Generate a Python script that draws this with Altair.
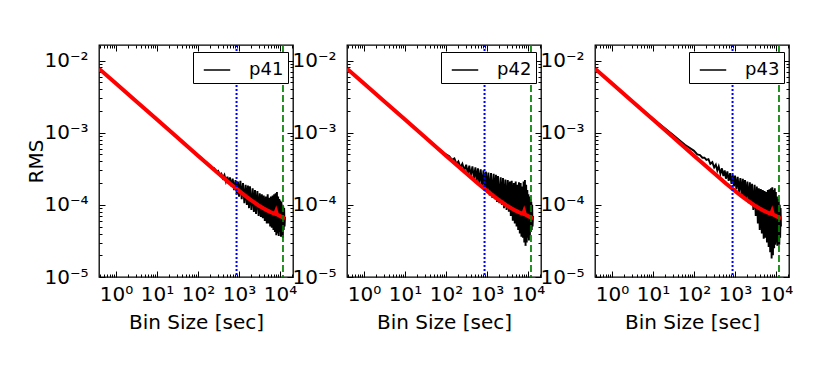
import altair as alt
import pandas as pd

FONT = "DejaVu Sans"
FS = 20
LEGEND_FS = 18

panel_names = ["p41", "p42", "p43"]

# bin sizes [sec] shared by the three measured RMS curves
bin_size = [
    0.385, 1, 3, 10, 30, 60,
    100, 120, 140, 160, 180,
    200, 225, 250, 280, 310,
    340, 370, 400, 440, 480,
    520, 560, 600, 650, 700,
    760, 820, 880, 940, 1000,
    1080, 1160, 1250, 1350, 1450,
    1550, 1650, 1750, 1850, 2000,
    2150, 2300, 2450, 2600, 2800,
    3000, 3200, 3400, 3600, 3800,
    4000, 4250, 4500, 4750, 5000,
    5250, 5500, 5750, 6000, 6300,
    6600, 6900, 7200, 7500, 7800,
    8100, 8400, 8700, 9000, 9300,
    9600, 9900, 10200, 10500, 10800,
    11100, 11400, 11700, 12000, 12300,
    12600, 12900, 13200,
]

rms_p41 = [
    7.7e-3, 4.8e-3, 2.77e-3, 1.52e-3, 8.8e-4, 6.2e-4,
    4.85e-4, 4.45e-4, 4.0e-4, 3.9e-4, 3.55e-4,
    3.5e-4, 3.15e-4, 3.2e-4, 2.85e-4, 2.95e-4,
    2.6e-4, 2.7e-4, 2.35e-4, 2.6e-4, 2.1e-4,
    2.45e-4, 1.95e-4, 2.4e-4, 1.8e-4, 2.3e-4,
    1.6e-4, 2.2e-4, 1.4e-4, 2.1e-4, 1.3e-4,
    2.15e-4, 1.2e-4, 2.0e-4, 1.05e-4, 1.9e-4,
    1.0e-4, 1.85e-4, 9.0e-5, 1.8e-4, 8.5e-5,
    1.7e-4, 8.0e-5, 1.6e-4, 7.5e-5, 1.55e-4,
    7.0e-5, 1.45e-4, 6.8e-5, 1.4e-4, 6.5e-5,
    1.35e-4, 6.0e-5, 1.3e-4, 5.5e-5, 1.4e-4,
    5.5e-5, 1.25e-4, 5.0e-5, 1.3e-4, 4.8e-5,
    1.35e-4, 4.5e-5, 1.4e-4, 4.2e-5, 1.45e-4,
    3.8e-5, 1.5e-4, 4.0e-5, 1.3e-4, 3.7e-5,
    1.2e-4, 4.2e-5, 1.15e-4, 3.6e-5, 1.1e-4,
    4.0e-5, 1.0e-4, 3.5e-5, 9.5e-5, 4.5e-5,
    9.0e-5, 5.0e-5, 6.8e-5,
]

rms_p42 = [
    7.7e-3, 4.8e-3, 2.77e-3, 1.52e-3, 8.8e-4, 6.3e-4,
    5.0e-4, 4.7e-4, 4.2e-4, 4.4e-4, 3.7e-4,
    4.0e-4, 3.3e-4, 3.7e-4, 3.0e-4, 3.6e-4,
    2.7e-4, 3.5e-4, 2.5e-4, 3.4e-4, 2.3e-4,
    3.3e-4, 2.1e-4, 3.2e-4, 1.95e-4, 3.1e-4,
    1.8e-4, 3.0e-4, 1.6e-4, 2.9e-4, 1.5e-4,
    2.8e-4, 1.35e-4, 2.75e-4, 1.25e-4, 2.7e-4,
    1.2e-4, 2.6e-4, 1.1e-4, 2.5e-4, 1.05e-4,
    2.4e-4, 1.0e-4, 2.35e-4, 9.0e-5, 2.25e-4,
    8.5e-5, 2.2e-4, 8.0e-5, 2.1e-4, 7.0e-5,
    2.15e-4, 6.0e-5, 2.0e-4, 5.5e-5, 2.1e-4,
    5.0e-5, 1.9e-4, 4.5e-5, 2.05e-4, 4.0e-5,
    2.0e-4, 3.6e-5, 1.8e-4, 3.5e-5, 2.1e-4,
    3.0e-5, 2.2e-4, 2.7e-5, 1.9e-4, 3.0e-5,
    1.6e-4, 3.5e-5, 1.4e-4, 3.2e-5, 1.3e-4,
    3.8e-5, 1.2e-4, 4.2e-5, 1.1e-4, 4.5e-5,
    1.0e-4, 5.0e-5, 7.0e-5,
]

rms_p43 = [
    7.7e-3, 4.85e-3, 2.8e-3, 1.56e-3, 9.4e-4, 6.8e-4,
    5.6e-4, 5.0e-4, 4.9e-4, 4.5e-4, 4.5e-4,
    4.2e-4, 4.3e-4, 3.7e-4, 3.9e-4, 3.3e-4,
    3.6e-4, 3.0e-4, 3.4e-4, 2.7e-4, 3.2e-4,
    2.5e-4, 3.0e-4, 2.3e-4, 2.9e-4, 2.15e-4,
    2.75e-4, 1.95e-4, 2.6e-4, 1.8e-4, 2.55e-4,
    1.65e-4, 2.45e-4, 1.5e-4, 2.35e-4, 1.35e-4,
    2.3e-4, 1.25e-4, 2.2e-4, 1.15e-4, 2.1e-4,
    1.05e-4, 2.05e-4, 1.0e-4, 1.95e-4, 8.5e-5,
    1.9e-4, 7.0e-5, 1.8e-4, 5.5e-5, 1.7e-4,
    4.5e-5, 1.65e-4, 4.0e-5, 1.6e-4, 3.4e-5,
    1.55e-4, 3.5e-5, 1.5e-4, 3.0e-5, 1.6e-4,
    2.6e-5, 1.65e-4, 2.2e-5, 1.7e-4, 1.8e-5,
    1.75e-4, 2.0e-5, 1.6e-4, 2.5e-5, 1.7e-4,
    2.8e-5, 1.5e-4, 3.0e-5, 1.3e-4, 2.7e-5,
    1.2e-4, 3.0e-5, 1.1e-4, 2.8e-5, 1.0e-4,
    3.5e-5, 9.0e-5, 5.0e-5,
]

rms_by_panel = [rms_p41, rms_p42, rms_p43]

# expected (white-noise) RMS curve, red
expected_bin = [0.385, 1, 3, 10, 30, 100, 300, 600, 1000, 1500, 2000, 3000,
                4000, 5000, 6000, 7000, 7600, 8000, 8400, 9000, 10000, 11000,
                12000, 13200]
expected_rms = [7.7e-3, 4.8e-3, 2.77e-3, 1.52e-3, 8.8e-4, 4.8e-4, 2.78e-4,
                1.98e-4, 1.56e-4, 1.3e-4, 1.15e-4, 9.8e-5, 8.9e-5, 8.3e-5,
                7.9e-5, 7.6e-5, 7.5e-5, 8.1e-5, 7.4e-5, 7.2e-5, 7.0e-5,
                6.8e-5, 6.6e-5, 6.5e-5]

blue_line_bin = [870]
green_line_bin = [11800]

x_domain = [0.385, 20700]
y_domain = [1e-5, 0.0164]
x_major = [1, 10, 100, 1000, 10000]
y_major = [1e-5, 1e-4, 1e-3, 1e-2]
x_minor = [m * 10.0 ** k for k in range(-1, 5) for m in range(2, 10)
           if x_domain[0] <= m * 10.0 ** k <= x_domain[1]]
y_minor = [m * 10.0 ** k for k in range(-5, -1) for m in range(2, 10)
           if y_domain[0] <= m * 10.0 ** k <= y_domain[1]]

XLAB = "'10' + ['\u2070','\u00b9','\u00b2','\u00b3','\u2074'][round(log(datum.value)/LN10)]"
YLAB = "'10' + ['\u207b\u2075','\u207b\u2074','\u207b\u00b3','\u207b\u00b2'][round(log(datum.value)/LN10)+5]"

xscale = alt.Scale(type="log", domain=x_domain, nice=False)
yscale = alt.Scale(type="log", domain=y_domain, nice=False)


def xaxis(orient, values, size, labels=False, title=None):
    kw = dict(orient=orient, values=values, tickSize=size, offset=-size,
              domain=False, grid=False, labels=labels, title=title,
              labelOverlap=False, labelFlush=False, tickColor="black", tickWidth=1)
    if labels:
        kw.update(labelExpr=XLAB, labelPadding=7, titlePadding=8,
                  labelFont=FONT, labelFontSize=FS, labelColor="black",
                  titleFont=FONT, titleFontSize=FS, titleFontWeight="normal",
                  titleColor="black")
    return alt.Axis(**kw)


def yaxis(orient, values, size, labels=False, title=None):
    kw = dict(orient=orient, values=values, tickSize=size, offset=-size,
              domain=False, grid=False, labels=labels, title=title,
              labelOverlap=False, labelFlush=False, tickColor="black", tickWidth=1)
    if labels:
        kw.update(labelExpr=YLAB, labelPadding=11, titlePadding=-3,
                  labelFont=FONT, labelFontSize=FS, labelColor="black",
                  titleFont=FONT, titleFontSize=FS, titleFontWeight="normal",
                  titleColor="black")
    return alt.Axis(**kw)


def panel(name, rms, first):
    black_df = pd.DataFrame({"bin": bin_size, "rms": rms, "series": name})
    red_df = pd.DataFrame({"bin": expected_bin, "rms": expected_rms})

    black = alt.Chart(black_df).mark_line(strokeWidth=1.9, clip=True).encode(
        x=alt.X("bin:Q", scale=xscale,
                axis=xaxis("bottom", x_major, 6, labels=True, title="Bin Size [sec]")),
        y=alt.Y("rms:Q", scale=yscale,
                axis=yaxis("left", y_major, 6, labels=True, title="RMS" if first else None)),
        color=alt.Color("series:N",
                        scale=alt.Scale(domain=[name], range=["black"]),
                        legend=alt.Legend(title=None, orient="none", legendX=94, legendY=7,
                                          symbolType="stroke", symbolSize=700,
                                          symbolStrokeWidth=1.5, symbolStrokeColor="black",
                                          labelFontSize=LEGEND_FS, labelFont=FONT,
                                          labelColor="black",
                                          labelOffset=18, padding=4, symbolOffset=6,
                                          strokeColor="black", fillColor="white")),
    )
    red = alt.Chart(red_df).mark_line(color="#ff0000", strokeWidth=4, clip=True).encode(
        x=alt.X("bin:Q", scale=xscale, axis=xaxis("bottom", x_minor, 3)),
        y=alt.Y("rms:Q", scale=yscale, axis=yaxis("left", y_minor, 3)),
    )
    ghost_major = alt.Chart(red_df).mark_line(strokeOpacity=0).encode(
        x=alt.X("bin:Q", scale=xscale, axis=xaxis("top", x_major, 6)),
        y=alt.Y("rms:Q", scale=yscale, axis=yaxis("right", y_major, 6)),
    )
    ghost_minor = alt.Chart(red_df).mark_line(strokeOpacity=0).encode(
        x=alt.X("bin:Q", scale=xscale, axis=xaxis("top", x_minor, 3)),
        y=alt.Y("rms:Q", scale=yscale, axis=yaxis("right", y_minor, 3)),
    )
    blue = alt.Chart(pd.DataFrame({"bin": blue_line_bin})).mark_rule(
        color="#0000ff", strokeWidth=2, strokeDash=[2, 2]).encode(
        x=alt.X("bin:Q", scale=xscale, axis=None))
    green = alt.Chart(pd.DataFrame({"bin": green_line_bin})).mark_rule(
        color="#008000", strokeWidth=1.7, strokeDash=[7, 3]).encode(
        x=alt.X("bin:Q", scale=xscale, axis=None))

    return alt.layer(black, red, ghost_major, ghost_minor, blue, green).resolve_axis(
        x="independent", y="independent").properties(width=194, height=232)


panels = [panel(n, r, i == 0) for i, (n, r) in enumerate(zip(panel_names, rms_by_panel))]

chart = alt.hconcat(*panels, spacing=54, bounds="flush").resolve_scale(
    color="independent"
).properties(
    padding={"top": 35, "left": 18, "right": 0, "bottom": 0},
    background="white",
).configure_view(
    stroke="black", strokeWidth=1.3
)

chart.save("out.html", embed_options={"renderer": "svg", "actions": False})
